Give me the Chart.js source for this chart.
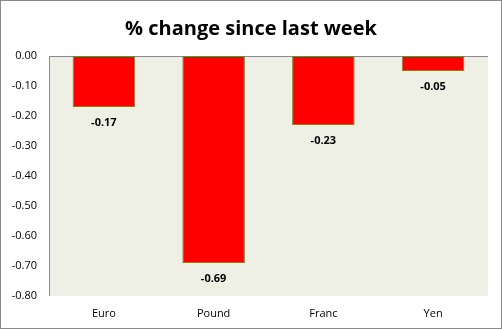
<!DOCTYPE html>
<html>
<head>
<meta charset="utf-8">
<script src="https://cdn.jsdelivr.net/npm/chart.js@4"></script>
<style>
  body { margin: 0; background: #fff; }
  #wrap { width: 500px; height: 327px; border: 1px solid #8a8a8a; }
</style>
</head>
<body>
<div id="wrap"><canvas id="chart" width="500" height="327"></canvas></div>
<script>
const categories = ['Euro', 'Pound', 'Franc', 'Yen'];
const changes = [-0.17, -0.69, -0.23, -0.05];
const yMin = -0.8;
const yMax = 0;

const ctx = document.getElementById('chart').getContext('2d');

// plot background + axis lines like the Excel original
const plotArea = {
    id: 'plotArea',
    beforeDatasetsDraw(chart) {
        const { ctx, chartArea: a } = chart;
        ctx.save();
        ctx.fillStyle = '#eef0e6';
        ctx.fillRect(a.left, a.top, a.right - a.left, a.bottom - a.top);
        ctx.strokeStyle = '#8c8c8c';
        ctx.lineWidth = 1;
        ctx.beginPath();
        ctx.moveTo(a.left + 0.5, a.bottom);
        ctx.lineTo(a.left + 0.5, a.top + 0.5);
        ctx.lineTo(a.right, a.top + 0.5);
        ctx.stroke();
        ctx.restore();
    }
};

const valueLabels = {
    id: 'valueLabels',
    afterDatasetsDraw(chart) {
        const { ctx } = chart;
        const meta = chart.getDatasetMeta(0);
        ctx.save();
        ctx.font = 'bold 11px "Open Sans", sans-serif';
        ctx.fillStyle = '#000';
        ctx.textAlign = 'center';
        ctx.textBaseline = 'middle';
        meta.data.forEach((bar, i) => {
            ctx.fillText(changes[i].toFixed(2), bar.x, bar.y + 16);
        });
        ctx.restore();
    }
};

const chart = new Chart(ctx, {
    type: 'bar',
    data: {
        labels: categories,
        datasets: [{
            data: changes,
            backgroundColor: '#ff0000',
            borderColor: '#8c7a3c',
            borderWidth: 1,
            borderSkipped: false,
            barPercentage: 0.57,
            categoryPercentage: 1.0
        }]
    },
    options: {
        responsive: false,
        animation: false,
        layout: { padding: 0 },
        plugins: {
            legend: { display: false },
            tooltip: { enabled: false },
            title: {
                display: true,
                text: '% change since last week',
                color: '#000',
                font: { family: '"Open Sans", sans-serif', size: 20, weight: 'bold' },
                padding: { top: 16, bottom: 15 }
            }
        },
        scales: {
            x: {
                grid: { display: false, drawTicks: false },
                border: { display: false },
                ticks: {
                    color: '#000',
                    font: { family: '"Open Sans", sans-serif', size: 11 },
                    padding: 11
                },
                afterFit(scale) { scale.height = 32; }
            },
            y: {
                min: yMin,
                max: yMax,
                grid: { display: false, drawTicks: false },
                border: { display: false },
                ticks: {
                    stepSize: 0.1,
                    color: '#000',
                    font: { family: '"Open Sans", sans-serif', size: 11 },
                    padding: 12,
                    callback: (v) => Number(v).toFixed(2)
                },
                afterFit(scale) { scale.width = 48; }
            },
            // empty right gutter so the title stays centred on the whole canvas
            gutter: {
                position: 'right',
                grid: { display: false, drawTicks: false },
                border: { display: false },
                ticks: { display: false },
                afterFit(scale) { scale.width = 13; }
            }
        }
    },
    plugins: [plotArea, valueLabels]
});
</script>
</body>
</html>
